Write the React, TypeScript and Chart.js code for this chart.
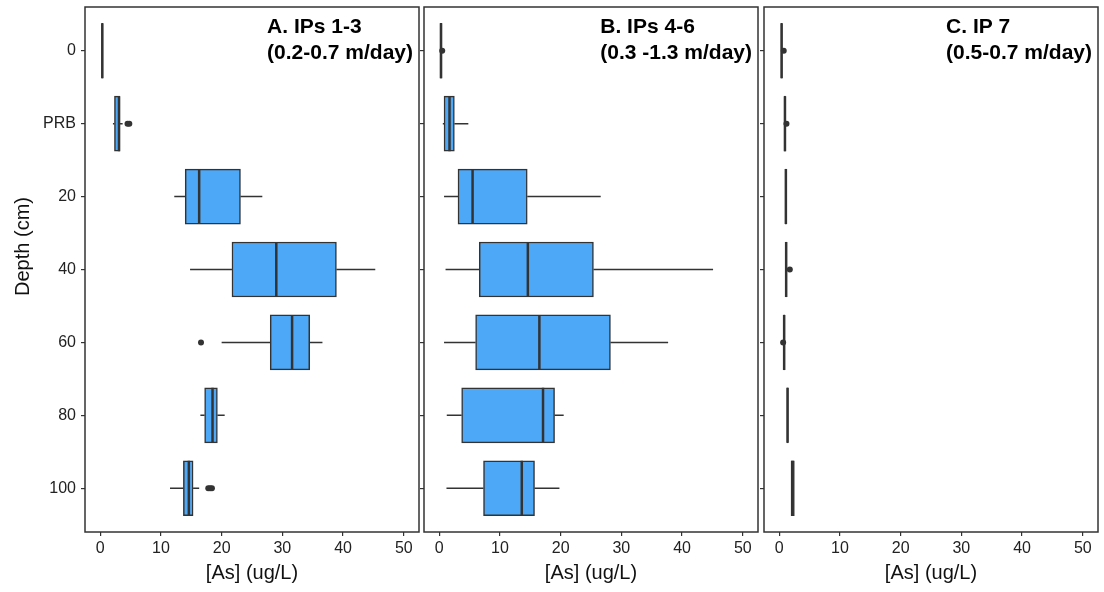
import { useEffect, useRef } from 'react';
import { Chart, registerables } from 'chart.js';

Chart.register(...registerables);

// ---------- data ----------
const depthLabels = ['0', 'PRB', '20', '40', '60', '80', '100'];
const xTicks = [0, 10, 20, 30, 40, 50];

// Panel A: IPs 1-3
const titleA = ['A. IPs 1-3', '(0.2-0.7 m/day)'];
const aLow = [0.25, 2.1, 12.2, 14.8, 20.0, 16.5, 11.5];
const aQ1 = [0.25, 2.35, 14.0, 21.7, 28.0, 17.2, 13.7];
const aMed = [0.35, 3.1, 16.3, 29.0, 31.6, 18.5, 14.6];
const aQ3 = [0.45, 3.25, 23.1, 38.9, 34.5, 19.3, 15.3];
const aHigh = [0.45, 3.7, 26.7, 45.3, 36.6, 20.5, 16.3];
const aOutIdx = [1, 1, 4, 6, 6, 6];
const aOutVal = [4.5, 4.8, 16.6, 17.8, 18.1, 18.4];

// Panel B: IPs 4-6
const titleB = ['B. IPs 4-6', '(0.3 -1.3 m/day)'];
const bLow = [0.15, 0.6, 0.8, 1.05, 0.8, 1.25, 1.2];
const bQ1 = [0.15, 0.8, 3.1, 6.6, 6.0, 3.7, 7.3];
const bMed = [0.3, 1.7, 5.5, 14.6, 16.5, 17.1, 13.6];
const bQ3 = [0.45, 2.5, 14.5, 25.4, 28.2, 19.0, 15.7];
const bHigh = [0.45, 4.8, 26.6, 45.1, 37.7, 20.5, 19.8];
const bOutIdx = [0];
const bOutVal = [0.5];

// Panel C: IP 7
const titleC = ['C. IP 7', '(0.5-0.7 m/day)'];
const cLow = [0.3, 0.85, 1.0, 1.05, 0.72, 1.28, 1.95];
const cQ1 = [0.3, 0.85, 1.0, 1.05, 0.72, 1.28, 1.95];
const cMed = [0.4, 0.95, 1.1, 1.15, 0.82, 1.38, 2.2];
const cQ3 = [0.5, 1.05, 1.2, 1.25, 0.92, 1.48, 2.5];
const cHigh = [0.5, 1.05, 1.2, 1.25, 0.92, 1.48, 2.5];
const cOutIdx = [0, 1, 3, 4];
const cOutVal = [0.75, 1.2, 1.75, 0.65];

// ---------- style ----------
const FONT = '"Liberation Sans", Arial, Helvetica, sans-serif';
const BOX_FILL = '#4DA9F8';
const DARK = '#333333';
const BOX_PX = 55;
const Y_MIN = -0.6;
const Y_MAX = 6.6;
const X_MIN = -2.5;
const X_MAX = 52.5;

type Panel = {
  title: string[];
  low: number[]; q1: number[]; med: number[]; q3: number[]; high: number[];
  outIdx: number[]; outVal: number[];
  padLeft: number; padRight: number; yWidth: number;
  showYLabels: boolean; yTitle: boolean;
};

const panels: Panel[] = [
  { title: titleA, low: aLow, q1: aQ1, med: aMed, q3: aQ3, high: aHigh, outIdx: aOutIdx, outVal: aOutVal,
    padLeft: 0, padRight: 1104 - 419, yWidth: 85, showYLabels: true, yTitle: true },
  { title: titleB, low: bLow, q1: bQ1, med: bMed, q3: bQ3, high: bHigh, outIdx: bOutIdx, outVal: bOutVal,
    padLeft: 424 - 8, padRight: 1104 - 758, yWidth: 8, showYLabels: false, yTitle: false },
  { title: titleC, low: cLow, q1: cQ1, med: cMed, q3: cQ3, high: cHigh, outIdx: cOutIdx, outVal: cOutVal,
    padLeft: 764 - 8, padRight: 1104 - 1098, yWidth: 8, showYLabels: false, yTitle: false },
];

function makeChart(canvas: HTMLCanvasElement, p: Panel) {
  const n = depthLabels.length;
  const pxPerUnit = 525 / (Y_MAX - Y_MIN);
  const half = BOX_PX / 2 / pxPerUnit;
  const whisk: any[] = [];
  const meds: any[] = [];
  for (let i = 0; i < n; i++) {
    if (p.low[i] < p.q1[i]) whisk.push({ x: p.low[i], y: i }, { x: p.q1[i], y: i }, { x: null, y: null });
    if (p.high[i] > p.q3[i]) whisk.push({ x: p.q3[i], y: i }, { x: p.high[i], y: i }, { x: null, y: null });
    meds.push({ x: p.med[i], y: i - half }, { x: p.med[i], y: i + half }, { x: null, y: null });
  }
  const boxes = p.q1.map((v, i) => ({ x: [v, p.q3[i]], y: i }));
  const outs = p.outVal.map((v, i) => ({ x: v, y: p.outIdx[i] }));

  const deco = {
    id: 'deco',
    afterDatasetsDraw(chart: any) {
      const { ctx, chartArea: a } = chart;
      ctx.save();
      ctx.strokeStyle = DARK;
      ctx.lineWidth = 1.5;
      ctx.strokeRect(a.left, a.top, a.right - a.left, a.bottom - a.top);
      ctx.restore();
    },
    afterDraw(chart: any) {
      const { ctx, chartArea: a } = chart;
      ctx.save();
      ctx.fillStyle = '#000';
      ctx.font = `bold 21px ${FONT}`;
      ctx.textAlign = 'left';
      ctx.textBaseline = 'alphabetic';
      const w = Math.max(...p.title.map((t) => ctx.measureText(t).width));
      const x0 = a.right - 6 - w;
      p.title.forEach((t, k) => ctx.fillText(t, x0, a.top + 26 + k * 26));
      if (p.yTitle) {
        ctx.font = `20px ${FONT}`;
        ctx.fillStyle = '#111';
        ctx.translate(23, 246.5);
        ctx.rotate(-Math.PI / 2);
        ctx.textAlign = 'center';
        ctx.textBaseline = 'middle';
        ctx.fillText('Depth (cm)', 0, 0);
      }
      ctx.restore();
    },
  };

  return new Chart(canvas, {
    type: 'bar',
    data: {
      datasets: [
        { type: 'line', data: whisk, borderColor: DARK, borderWidth: 1.5, pointRadius: 0, spanGaps: false, order: 4 } as any,
        { type: 'bar', indexAxis: 'y', data: boxes, backgroundColor: BOX_FILL, borderColor: DARK, borderWidth: 1.5,
          borderSkipped: false, barThickness: BOX_PX, order: 3 } as any,
        { type: 'line', data: meds, borderColor: DARK, borderWidth: 2.5, pointRadius: 0, spanGaps: false, order: 2 } as any,
        { type: 'line', data: outs, showLine: false, pointRadius: 3, pointBackgroundColor: DARK, pointBorderWidth: 0,
          borderColor: DARK, order: 1 } as any,
      ],
    },
    options: {
      indexAxis: 'y',
      responsive: false,
      animation: false,
      events: [],
      layout: { padding: { left: p.padLeft, right: p.padRight, top: 7, bottom: 0 } },
      plugins: { legend: { display: false }, tooltip: { enabled: false }, title: { display: false } },
      scales: {
        x: {
          type: 'linear',
          min: X_MIN,
          max: X_MAX,
          offset: false,
          afterBuildTicks: (s: any) => { s.ticks = xTicks.map((v) => ({ value: v })); },
          afterFit: (s: any) => { s.height = 60; s.paddingLeft = 0; s.paddingRight = 0; s.paddingTop = 0; s.paddingBottom = 0; },
          grid: { display: true, drawOnChartArea: false, drawTicks: true, tickLength: 4, color: DARK, lineWidth: 1.2, offset: false },
          border: { display: false },
          ticks: { color: '#222', font: { size: 16, family: FONT }, padding: 3, maxRotation: 0, autoSkip: false },
          title: { display: true, text: '[As] (ug/L)', color: '#111', font: { size: 20, family: FONT }, padding: { top: 0, bottom: 7 } },
        },
        y: {
          type: 'linear',
          min: Y_MIN,
          max: Y_MAX,
          reverse: true,
          offset: false,
          afterBuildTicks: (s: any) => { s.ticks = depthLabels.map((_, i) => ({ value: i })); },
          afterFit: (s: any) => { s.width = p.yWidth; s.paddingTop = 0; s.paddingBottom = 0; s.paddingLeft = 0; s.paddingRight = 0; },
          grid: { display: true, drawOnChartArea: false, drawTicks: true, tickLength: 4, color: DARK, lineWidth: 1.2, offset: false },
          border: { display: false },
          ticks: {
            color: '#222',
            font: { size: 16, family: FONT },
            padding: 5,
            autoSkip: false,
            callback: (v: any) => (p.showYLabels ? depthLabels[v] ?? '' : ''),
          },
        },
      },
    },
    plugins: [deco],
  } as any);
}

export default function App() {
  const r0 = useRef<HTMLCanvasElement>(null);
  const r1 = useRef<HTMLCanvasElement>(null);
  const r2 = useRef<HTMLCanvasElement>(null);
  useEffect(() => {
    Chart.defaults.font.family = FONT;
    const refs = [r0, r1, r2];
    const charts = panels.map((p, i) => makeChart(refs[i].current as HTMLCanvasElement, p));
    return () => charts.forEach((c) => c.destroy());
  }, []);
  const st: any = { position: 'absolute', left: 0, top: 0, width: 1104, height: 592 };
  return (
    <div style={{ position: 'fixed', left: 0, top: 0, width: 1104, height: 592, background: '#fff' }}>
      <canvas ref={r0} width={1104} height={592} style={st} />
      <canvas ref={r1} width={1104} height={592} style={st} />
      <canvas ref={r2} width={1104} height={592} style={st} />
    </div>
  );
}
